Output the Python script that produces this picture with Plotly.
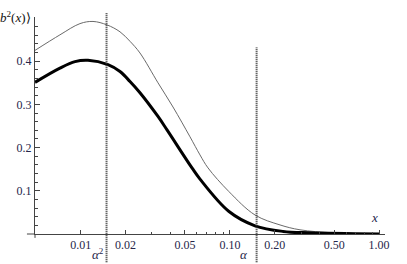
import math
import plotly.graph_objects as go

# Data
x_thin = [0.00494, 0.00726, 0.00989, 0.01209, 0.01501, 0.01834, 0.02140, 0.02496, 0.03296,
          0.04155, 0.05402, 0.06304, 0.07132, 0.09862, 0.1473, 0.2167, 0.2950, 0.4909, 1.0]
y_thin = [0.425, 0.461, 0.487, 0.492, 0.484, 0.468, 0.446, 0.419, 0.350,
          0.294, 0.225, 0.183, 0.153, 0.098, 0.044, 0.021, 0.0097, 0.0028, 0.0]
x_thick = [0.00494, 0.00726, 0.00916, 0.01119, 0.01524, 0.01834, 0.02140, 0.02496, 0.03296,
           0.03789, 0.05569, 0.06304, 0.09862, 0.1473, 0.2270, 0.3441, 1.0]
y_thick = [0.351, 0.384, 0.399, 0.402, 0.392, 0.376, 0.353, 0.327, 0.272,
           0.241, 0.153, 0.127, 0.052, 0.019, 0.006, 0.0028, 0.0]

alpha2 = 0.0149
alpha = 0.151

x_tickvals = [0.01, 0.02, 0.05, 0.1, 0.2, 0.5, 1.0]
x_ticktext = ["0.01", "0.02", "0.05", "0.10", "0.20", "0.50", "1.00"]
x_minor = [0.03, 0.04, 0.06, 0.07, 0.08, 0.09, 0.3, 0.4, 0.6, 0.7, 0.8, 0.9]
y_tickvals = [0.1, 0.2, 0.3, 0.4]
y_ticktext = ["0.1", "0.2", "0.3", "0.4"]
y_minor = [0.02, 0.04, 0.06, 0.08, 0.12, 0.14, 0.16, 0.18, 0.22, 0.24, 0.26, 0.28,
           0.32, 0.34, 0.36, 0.38, 0.42, 0.44, 0.46, 0.48]

serif = "Liberation Serif"
axcol = "#444444"
labcol = "#26264a"

fig = go.Figure()
fig.add_trace(go.Scatter(x=x_thin, y=y_thin, mode="lines",
                         line=dict(color="#6a6a6a", width=1, shape="spline", smoothing=1.0),
                         hoverinfo="skip"))
fig.add_trace(go.Scatter(x=x_thick, y=y_thick, mode="lines",
                         line=dict(color="black", width=3, shape="spline", smoothing=1.0),
                         hoverinfo="skip"))

# dotted vertical lines
fig.add_shape(type="line", xref="x", yref="paper", x0=alpha2, x1=alpha2, y0=-0.13, y1=1.02,
              line=dict(color="#333333", width=2, dash="1px,1px"))
fig.add_shape(type="line", xref="x", yref="paper", x0=alpha, x1=alpha, y0=-0.13, y1=0.86,
              line=dict(color="#333333", width=2, dash="1px,1px"))
# slight extensions of the axes beyond the origin
fig.add_shape(type="line", xref="paper", yref="paper", x0=-0.023, x1=0, y0=0, y1=0,
              line=dict(color=axcol, width=1))
fig.add_shape(type="line", xref="paper", yref="paper", x0=0, x1=0, y0=-0.018, y1=0,
              line=dict(color=axcol, width=1))

fig.update_layout(
    width=407, height=264,
    margin=dict(l=35, r=22, t=17, b=30),
    paper_bgcolor="white", plot_bgcolor="white",
    showlegend=False,
    font=dict(family=serif, size=12, color=labcol),
    xaxis=dict(type="log", range=[-2.3063, 0.0395], automargin=False,
               tickvals=x_tickvals, ticktext=x_ticktext,
               ticks="inside", ticklen=4, tickcolor=axcol, tickwidth=1,
               minor=dict(tickvals=x_minor, ticks="inside", ticklen=2, tickcolor=axcol),
               showline=True, linecolor=axcol, linewidth=1,
               showgrid=False, zeroline=False,
               tickfont=dict(family=serif, size=12, color=labcol)),
    yaxis=dict(range=[0, 0.5023], automargin=False,
               tickvals=y_tickvals, ticktext=y_ticktext,
               ticks="inside", ticklen=5, tickcolor=axcol, tickwidth=1,
               minor=dict(tickvals=y_minor, ticks="inside", ticklen=3, tickcolor=axcol),
               showline=True, linecolor=axcol, linewidth=1,
               showgrid=False, zeroline=False,
               tickfont=dict(family=serif, size=12, color=labcol)),
    annotations=[
        dict(text="⟨<i>b</i><sup>2</sup>(<i>x</i>)⟩", xref="paper", yref="paper",
             x=0, y=1.0, xanchor="right", yanchor="middle", xshift=-2, showarrow=False,
             font=dict(family=serif, size=13, color="#111111")),
        dict(text="<i>x</i>", xref="paper", yref="paper", x=0.971, y=0.074,
             xanchor="center", yanchor="middle", showarrow=False,
             font=dict(family=serif, size=13, color=labcol)),
        dict(text="<i>α</i><sup>2</sup>", xref="x", yref="paper", x=math.log10(alpha2), y=-0.092,
             xanchor="right", yanchor="middle", xshift=-1, showarrow=False,
             font=dict(family=serif, size=13, color=labcol)),
        dict(text="<i>α</i>", xref="x", yref="paper", x=math.log10(alpha), y=-0.095,
             xanchor="right", yanchor="middle", xshift=-7, showarrow=False,
             font=dict(family=serif, size=13, color=labcol)),
    ],
)

fig.write_html("out.html", config={"displayModeBar": False},
               post_script="document.body.style.margin='0';document.body.style.overflow='hidden';")
